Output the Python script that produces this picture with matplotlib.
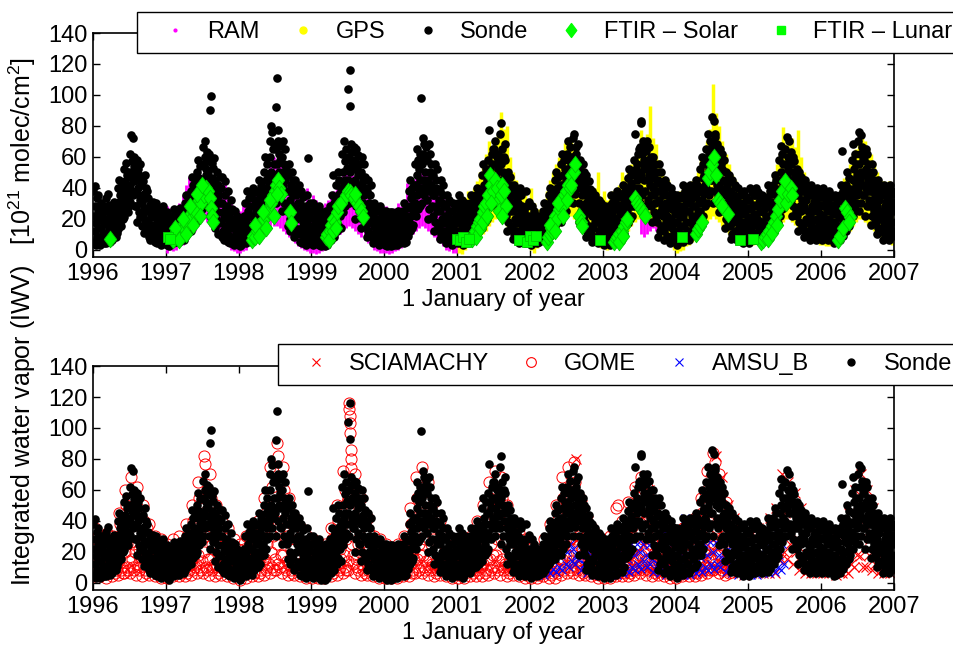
import numpy as np
import matplotlib.pyplot as plt
from matplotlib.lines import Line2D
from matplotlib.path import Path

plt.rcParams['font.family'] = ['Liberation Sans', 'DejaVu Sans']
plt.rcParams['font.size'] = 17
plt.rcParams['mathtext.default'] = 'regular'

years = list(range(1996, 2008))

# radiosonde IWV (1e21 molec/cm2), one list per month
sonde_1996 = [[38, 5, 22, 41, 12, 28, 3, 17, 33, 8, 25, 14, 35, 20], [8, 27, 3, 19, 14, 30, 6, 22, 11, 25, 4, 17, 28, 10],
              [20, 4, 33, 11, 25, 7, 16, 36, 13, 29, 5, 22, 9, 18], [12, 28, 6, 21, 17, 9, 31, 24, 14, 26, 8, 19, 11, 23],
              [22, 40, 13, 31, 45, 18, 35, 27, 15, 38, 24, 42, 20, 33], [30, 52, 21, 44, 36, 56, 26, 48, 33, 40, 24, 50, 38, 28],
              [42, 62, 31, 74, 50, 38, 57, 46, 72, 35, 54, 44, 60, 28, 48], [45, 28, 58, 36, 18, 52, 40, 24, 48, 32, 55, 21, 42, 30],
              [30, 15, 44, 22, 36, 11, 27, 48, 19, 33, 40, 13, 25, 38], [18, 33, 8, 25, 13, 29, 6, 21, 15, 27, 10, 23, 31, 16],
              [10, 24, 5, 16, 30, 12, 4, 20, 8, 26, 14, 7, 22, 18], [7, 18, 3, 25, 12, 5, 28, 15, 9, 21, 4, 14, 24, 11]]
sonde_1997 = [[5, 18, 3, 24, 10, 14, 2, 20, 8, 16, 12, 22, 6, 11], [12, 4, 22, 8, 17, 26, 6, 14, 10, 20, 5, 18, 24, 9],
              [9, 22, 5, 15, 27, 11, 19, 7, 13, 24, 17, 10, 21, 6], [14, 30, 8, 22, 35, 18, 10, 26, 12, 28, 20, 32, 16, 24],
              [20, 38, 12, 30, 47, 24, 16, 42, 27, 35, 22, 44, 18, 33], [28, 50, 20, 42, 58, 34, 24, 46, 38, 54, 30, 44, 26, 36],
              [40, 66, 30, 55, 45, 70, 35, 60, 48, 52, 38, 63, 43, 57], [50, 30, 62, 90, 22, 42, 99, 36, 56, 46, 26, 53, 40, 33, 59],
              [28, 45, 14, 38, 20, 50, 32, 10, 24, 42, 17, 35, 30, 47], [18, 40, 8, 30, 47, 12, 24, 6, 21, 35, 15, 44, 27, 10],
              [12, 28, 5, 20, 38, 9, 16, 4, 24, 14, 32, 7, 19, 26], [6, 20, 3, 14, 25, 9, 4, 17, 11, 22, 7, 15, 12, 19]]
sonde_1998 = [[4, 15, 2, 20, 9, 12, 3, 18, 7, 14, 10, 22, 5, 16], [8, 30, 4, 20, 38, 12, 25, 6, 16, 33, 10, 22, 28, 14],
              [10, 35, 5, 22, 40, 15, 28, 8, 18, 32, 12, 25, 37, 20], [15, 38, 10, 28, 45, 20, 33, 12, 24, 41, 17, 30, 36, 22],
              [25, 50, 18, 40, 60, 30, 45, 22, 35, 55, 28, 48, 38, 42], [40, 70, 30, 60, 80, 50, 35, 76, 45, 65, 55, 42, 68, 48],
              [45, 92, 30, 65, 111, 55, 40, 77, 70, 50, 62, 36, 58, 48, 67], [35, 60, 25, 50, 70, 42, 30, 55, 45, 65, 38, 52, 28, 48],
              [25, 48, 15, 38, 55, 20, 32, 12, 42, 28, 50, 18, 35, 45], [15, 40, 8, 28, 45, 20, 35, 10, 25, 38, 13, 30, 42, 22],
              [10, 30, 5, 22, 38, 14, 4, 26, 18, 34, 8, 24, 12, 20], [8, 28, 3, 18, 35, 12, 59, 5, 22, 15, 30, 10, 25, 6]]
sonde_1999 = [[6, 25, 3, 15, 30, 10, 20, 4, 12, 27, 8, 18, 23, 14], [5, 20, 3, 12, 28, 8, 16, 2, 10, 24, 14, 6, 22, 18],
              [4, 18, 2, 10, 25, 7, 14, 3, 12, 21, 6, 16, 9, 20], [10, 28, 6, 18, 35, 13, 24, 48, 16, 30, 8, 21, 33, 26],
              [20, 42, 12, 30, 50, 16, 36, 25, 45, 22, 33, 14, 39, 28], [35, 62, 24, 50, 70, 42, 28, 57, 45, 65, 32, 53, 38, 60],
              [45, 104, 30, 60, 116, 50, 93, 38, 68, 55, 42, 63, 35, 52, 66], [35, 58, 20, 45, 65, 28, 52, 40, 48, 32, 61, 25, 55, 42],
              [25, 50, 14, 38, 60, 20, 44, 30, 35, 55, 18, 47, 28, 40], [15, 38, 8, 25, 45, 12, 30, 20, 35, 18, 42, 10, 27, 22],
              [8, 22, 4, 15, 30, 10, 18, 5, 25, 12, 20, 7, 27, 14], [6, 20, 3, 12, 28, 9, 15, 4, 22, 17, 8, 25, 11, 18]]
sonde_2000 = [[5, 20, 3, 12, 25, 8, 16, 2, 14, 22, 6, 18, 10, 24], [4, 18, 2, 10, 24, 7, 14, 3, 20, 12, 6, 16, 22, 9],
              [6, 20, 3, 12, 25, 9, 16, 4, 18, 11, 22, 7, 14, 19], [8, 25, 4, 15, 30, 11, 20, 5, 18, 27, 13, 22, 9, 16],
              [18, 38, 12, 28, 45, 22, 33, 14, 40, 25, 35, 16, 30, 42], [30, 55, 22, 42, 65, 35, 48, 26, 58, 38, 52, 28, 45, 62],
              [40, 98, 30, 55, 72, 45, 62, 35, 68, 50, 58, 42, 66, 38], [32, 58, 20, 45, 68, 26, 50, 38, 62, 42, 55, 28, 48, 35],
              [22, 48, 12, 35, 55, 18, 40, 28, 45, 25, 52, 15, 38, 32], [14, 38, 7, 25, 45, 10, 30, 20, 35, 17, 42, 12, 28, 22],
              [8, 28, 4, 18, 35, 12, 22, 6, 25, 15, 32, 10, 20, 14], [6, 25, 3, 14, 30, 10, 20, 4, 17, 27, 8, 22, 12, 18]]
sonde_2001 = [[8, 30, 4, 18, 35, 12, 24, 6, 20, 27, 10, 15, 32, 3], [10, 25, 5, 18, 30, 14, 22, 7, 20, 12, 27, 9, 16, 24],
              [12, 30, 6, 20, 35, 16, 26, 9, 23, 14, 32, 18, 28, 11], [15, 35, 10, 25, 40, 20, 30, 12, 28, 18, 37, 22, 33, 16],
              [22, 48, 14, 35, 55, 28, 42, 18, 38, 25, 52, 32, 45, 20], [32, 58, 22, 45, 77, 38, 52, 28, 48, 62, 35, 55, 42, 65],
              [40, 65, 30, 55, 70, 48, 35, 60, 45, 52, 38, 62, 43, 57], [35, 75, 25, 55, 82, 45, 65, 30, 50, 60, 40, 68, 48, 58],
              [22, 45, 12, 35, 50, 18, 40, 28, 32, 47, 25, 38, 15, 42], [14, 35, 7, 25, 42, 10, 30, 20, 38, 17, 27, 12, 33, 22],
              [8, 30, 4, 20, 40, 12, 25, 6, 35, 16, 28, 10, 22, 18], [7, 25, 4, 15, 38, 10, 20, 5, 28, 13, 22, 9, 31, 17]]
sonde_2002 = [[6, 22, 3, 14, 28, 9, 18, 4, 12, 25, 8, 20, 16, 10], [8, 18, 4, 12, 22, 6, 15, 5, 10, 20, 14, 7, 17, 11],
              [10, 25, 6, 18, 30, 13, 22, 8, 20, 15, 27, 11, 24, 16], [18, 35, 12, 28, 40, 22, 32, 14, 25, 37, 20, 30, 16, 34],
              [22, 45, 15, 35, 50, 28, 40, 18, 32, 47, 25, 38, 20, 42], [28, 55, 18, 42, 62, 35, 48, 22, 38, 58, 32, 52, 25, 45],
              [40, 62, 30, 52, 70, 45, 58, 35, 48, 66, 42, 55, 38, 60], [42, 72, 30, 58, 75, 50, 36, 66, 45, 62, 55, 40, 68, 48],
              [30, 52, 18, 42, 58, 25, 48, 35, 45, 28, 55, 38, 22, 50], [18, 42, 8, 30, 48, 12, 36, 24, 33, 15, 44, 27, 10, 39],
              [10, 32, 5, 22, 38, 14, 28, 6, 25, 18, 35, 8, 30, 20], [8, 28, 4, 18, 32, 12, 22, 6, 25, 15, 30, 10, 20, 14]]
sonde_2003 = [[6, 22, 3, 14, 28, 9, 18, 4, 25, 11, 20, 7, 16, 24], [8, 28, 3, 18, 35, 12, 24, 5, 30, 15, 21, 10, 32, 26],
              [10, 32, 5, 20, 38, 14, 26, 7, 35, 17, 29, 12, 23, 34], [14, 36, 7, 25, 42, 18, 30, 10, 38, 22, 33, 16, 28, 40],
              [25, 46, 17, 35, 52, 30, 40, 20, 48, 28, 43, 22, 37, 50], [35, 58, 28, 48, 75, 40, 52, 30, 55, 45, 62, 38, 50, 65],
              [40, 66, 30, 83, 82, 48, 35, 62, 55, 70, 45, 58, 52, 68], [38, 64, 28, 52, 70, 45, 58, 32, 48, 66, 42, 55, 35, 60],
              [28, 52, 18, 40, 60, 24, 46, 35, 55, 30, 50, 22, 43, 38], [18, 45, 8, 32, 55, 12, 38, 25, 50, 15, 42, 28, 35, 22],
              [12, 38, 6, 25, 45, 18, 30, 9, 42, 22, 35, 15, 28, 20], [8, 32, 4, 20, 40, 14, 26, 6, 36, 17, 29, 11, 23, 34]]
sonde_2004 = [[8, 30, 3, 18, 35, 12, 24, 5, 28, 15, 21, 10, 33, 26], [10, 35, 5, 22, 42, 15, 28, 7, 38, 18, 32, 12, 25, 40],
              [12, 36, 6, 25, 42, 18, 30, 9, 38, 22, 33, 15, 28, 40], [16, 40, 10, 28, 45, 20, 34, 12, 42, 24, 37, 18, 30, 22],
              [25, 52, 18, 40, 60, 32, 46, 22, 55, 36, 48, 28, 42, 57], [40, 65, 30, 55, 75, 48, 35, 62, 52, 70, 45, 58, 38, 68],
              [45, 86, 30, 65, 83, 55, 73, 38, 75, 50, 62, 42, 58, 68, 52], [35, 60, 24, 48, 65, 40, 55, 28, 52, 38, 62, 44, 30, 58],
              [25, 45, 14, 35, 50, 20, 42, 30, 38, 18, 48, 28, 33, 44], [15, 38, 7, 25, 45, 10, 30, 20, 35, 18, 42, 12, 28, 23],
              [10, 32, 6, 20, 40, 14, 26, 8, 35, 18, 29, 12, 23, 37], [8, 30, 4, 18, 38, 12, 24, 6, 34, 15, 27, 10, 21, 32]]
sonde_2005 = [[8, 32, 4, 20, 40, 14, 26, 6, 37, 17, 29, 11, 23, 35], [10, 35, 6, 22, 40, 16, 28, 8, 37, 19, 31, 13, 25, 33],
              [10, 30, 6, 18, 35, 14, 24, 8, 32, 16, 27, 12, 21, 29], [12, 34, 7, 22, 42, 16, 28, 9, 38, 19, 31, 14, 25, 36],
              [20, 42, 12, 30, 48, 25, 36, 15, 45, 22, 39, 17, 33, 28], [32, 58, 22, 45, 67, 38, 50, 26, 62, 42, 55, 30, 48, 35],
              [40, 65, 30, 55, 73, 48, 35, 60, 52, 70, 45, 58, 38, 63], [32, 55, 22, 45, 60, 28, 50, 38, 57, 35, 48, 25, 42, 52],
              [22, 45, 12, 35, 50, 18, 40, 28, 47, 25, 38, 15, 32, 43], [15, 38, 8, 28, 45, 12, 32, 20, 42, 18, 35, 10, 25, 40],
              [12, 35, 6, 22, 42, 16, 28, 9, 38, 19, 31, 14, 25, 33], [10, 32, 6, 20, 40, 14, 26, 8, 36, 17, 29, 12, 23, 34]]
sonde_2006 = [[10, 34, 6, 22, 40, 15, 28, 8, 37, 18, 31, 12, 25, 36], [10, 32, 6, 20, 38, 14, 26, 8, 35, 17, 29, 12, 23, 34],
              [8, 28, 4, 18, 35, 12, 24, 5, 31, 15, 26, 10, 21, 33], [12, 35, 6, 22, 42, 16, 64, 9, 38, 19, 30, 14, 26, 33],
              [20, 42, 12, 30, 50, 25, 36, 15, 46, 22, 39, 18, 33, 28], [32, 58, 22, 45, 68, 38, 52, 26, 62, 42, 55, 30, 48, 35],
              [38, 70, 25, 55, 76, 45, 62, 30, 74, 50, 66, 42, 58, 35, 48], [35, 58, 22, 48, 65, 40, 52, 28, 62, 44, 55, 32, 50, 38],
              [28, 48, 16, 38, 55, 22, 42, 32, 50, 25, 45, 20, 35, 40], [18, 38, 10, 28, 45, 14, 32, 22, 42, 20, 35, 12, 25, 40],
              [12, 35, 6, 22, 42, 16, 28, 9, 38, 19, 31, 14, 25, 33], [10, 34, 6, 22, 42, 15, 28, 8, 38, 18, 31, 12, 25, 36]]

# GPS: half-month low / high envelopes, 2001-2006
gps_high_2001 = [30, 34, 33, 38, 36, 40, 44, 50, 55, 62, 70, 66, 72, 75, 89, 78, 80, 60, 50, 45, 40, 38, 35, 32]
gps_low_2001 = [-2, -3, 0, 2, 3, 5, 6, 8, 10, 12, 15, 18, 20, 22, 20, 18, 15, 12, 10, 8, 5, 4, 3, 2]
gps_high_2002 = [40, 30, 26, 26, 32, 38, 45, 50, 55, 60, 62, 69, 72, 70, 68, 65, 60, 55, 48, 42, 38, 40, 50, 32]
gps_low_2002 = [0, -2, 1, 3, 5, 6, 8, 10, 12, 15, 18, 20, 22, 22, 20, 18, 15, 12, 10, 8, 6, 4, 2, 1]
gps_high_2003 = [38, 32, 35, 38, 40, 42, 50, 46, 50, 55, 60, 65, 77, 70, 75, 93, 72, 68, 58, 50, 44, 45, 42, 38]
gps_low_2003 = [1, 0, 2, 3, 4, 5, 8, 10, 12, 15, 18, 20, 22, 20, 22, 20, 18, 15, 12, 8, 6, 4, 2, 0]
gps_high_2004 = [35, 38, 40, 42, 42, 44, 46, 50, 58, 62, 70, 78, 107, 88, 80, 70, 62, 55, 48, 45, 42, 40, 38, 36]
gps_low_2004 = [-2, -1, 0, 2, 3, 5, 8, 10, 12, 15, 18, 20, 22, 20, 18, 15, 12, 10, 8, 6, 4, 3, 2, 2]
gps_high_2005 = [36, 38, 40, 38, 35, 34, 38, 40, 48, 55, 62, 79, 68, 70, 72, 66, 77, 60, 50, 45, 42, 40, 40, 38]
gps_low_2005 = [2, 3, 4, 5, 5, 4, 5, 7, 10, 12, 15, 18, 20, 20, 18, 16, 14, 12, 10, 8, 6, 5, 4, 3]
gps_high_2006 = [40, 38, 36, 34, 33, 36, 42, 46, 50, 55, 62, 65, 68, 72, 70, 66, 62, 56, 50, 45, 44, 42, 44, 42]
gps_low_2006 = [3, 2, 2, 3, 4, 5, 6, 8, 10, 12, 15, 18, 20, 20, 18, 16, 14, 12, 10, 8, 6, 5, 4, 3]

# RAM microwave radiometer: half-month low / high envelopes
ram_high_1997 = [28, 27, 25, 26, 30, 35, 42, 47, 40, 45, 48, 45, 42, 45, 40, 38, 35, 40, 42, 47, 35, 30, 28, 25]
ram_low_1997 = [-2, 0, -1, 0, 2, 3, 5, 8, 10, 12, 15, 18, 20, 18, 15, 12, 10, 8, 6, 4, 2, 0, -1, -2]
ram_high_1998 = [25, 28, 30, 35, 38, 40, 40, 42, 45, 50, 55, 60, 58, 55, 50, 45, 50, 45, 40, 35, 30, 28, 40, 30]
ram_low_1998 = [-2, -1, 0, 2, 3, 5, 6, 8, 10, 12, 14, 15, 15, 14, 12, 10, 8, 6, 4, 2, 1, 0, -1, -2]
ram_high_1999 = [35, 32, 30, 28, 30, 32, 35, 38, 42, 45, 48, 50, 50, 48, 45, 40, 38, 35, 33, 32, 30, 28, 26, 28]
ram_low_1999 = [-2, -3, -2, -1, 0, 2, 4, 6, 8, 10, 12, 14, 15, 14, 12, 10, 8, 6, 4, 2, 0, -1, -2, -2]
ram_high_2000 = [28, 26, 25, 27, 30, 28, 30, 43, 38, 45, 50, 55, 50, 52, 48, 45, 42, 40, 38, 35, 32, 30, 28, 26]
ram_low_2000 = [-2, -3, -2, -1, 0, 1, 3, 5, 7, 10, 12, 14, 15, 14, 12, 10, 8, 6, 4, 2, 0, -1, -2, -2]
ram_high_2003 = [25, 28, 30, 26, 22, 20]   # from July 2003
ram_low_2003 = [10, 8, 10, 12, 14, 12]

# FTIR
ftir_solar_t = [1996.23,
                1997.08, 1997.10, 1997.12, 1997.15, 1997.17, 1997.20, 1997.22, 1997.25, 1997.27, 1997.30, 1997.32,
                1997.35, 1997.37, 1997.40, 1997.42, 1997.45, 1997.48, 1997.52, 1997.55, 1997.58, 1997.60, 1997.62,
                1997.63, 1997.65, 1997.13, 1997.18, 1997.23, 1997.28, 1997.33, 1997.38, 1997.43, 1997.47, 1997.50,
                1998.18, 1998.20, 1998.22, 1998.25, 1998.27, 1998.30, 1998.32, 1998.35, 1998.37, 1998.40, 1998.42,
                1998.45, 1998.47, 1998.50, 1998.52, 1998.54, 1998.56, 1998.58, 1998.70, 1998.72, 1998.23, 1998.28,
                1998.33, 1998.38, 1998.43, 1998.48, 1998.53,
                1999.20, 1999.22, 1999.25, 1999.27, 1999.30, 1999.32, 1999.35, 1999.37, 1999.40, 1999.47, 1999.50,
                1999.53, 1999.55, 1999.58, 1999.62, 1999.65, 1999.68, 1999.71, 1999.24, 1999.29, 1999.34, 1999.60,
                2001.20, 2001.22, 2001.25, 2001.27, 2001.30, 2001.32, 2001.35, 2001.37, 2001.40, 2001.42, 2001.45,
                2001.47, 2001.50, 2001.52, 2001.55, 2001.57, 2001.58, 2001.60, 2001.62, 2001.65, 2001.67, 2001.62,
                2001.26, 2001.31, 2001.36, 2001.41, 2001.46,
                2002.23, 2002.25, 2002.27, 2002.29, 2002.31, 2002.33, 2002.35, 2002.37, 2002.40, 2002.42, 2002.44,
                2002.47, 2002.50, 2002.52, 2002.55, 2002.57, 2002.60, 2002.62, 2002.68, 2002.70, 2002.72, 2002.28,
                2002.34, 2002.39, 2002.45, 2002.51, 2002.56,
                2003.15, 2003.18, 2003.20, 2003.23, 2003.26, 2003.29, 2003.32, 2003.34, 2003.45, 2003.47, 2003.50,
                2003.53, 2003.56, 2003.58, 2003.22, 2003.28,
                2004.28, 2004.31, 2004.34, 2004.37, 2004.44, 2004.47, 2004.50, 2004.53, 2004.55, 2004.58, 2004.61,
                2004.64, 2004.72,
                2005.17, 2005.20, 2005.23, 2005.26, 2005.29, 2005.32, 2005.35, 2005.38, 2005.41, 2005.44, 2005.46,
                2005.50, 2005.52, 2005.55, 2005.58, 2005.60, 2005.27, 2005.33, 2005.39,
                2006.23, 2006.26, 2006.30, 2006.33, 2006.36, 2006.40, 2006.38]
ftir_solar_v = [7,
                8, 6, 10, 9, 12, 11, 15, 14, 18, 17, 22, 20, 25, 28, 24, 32, 30, 35, 40, 38, 33, 27, 22, 18,
                14, 6, 20, 10, 28, 16, 36, 22, 42,
                6, 9, 8, 12, 15, 14, 18, 20, 22, 26, 25, 30, 35, 38, 42, 45, 40, 36, 24, 17,
                16, 9, 24, 14, 32, 22, 36,
                8, 10, 12, 16, 20, 18, 24, 28, 30, 35, 38, 37, 35, 33, 30, 28, 25, 21, 6, 12, 14, 36,
                7, 9, 12, 15, 18, 20, 24, 28, 30, 35, 48, 42, 38, 45, 40, 32, 25, 35, 42, 38, 28, 22,
                8, 14, 18, 22, 30,
                5, 8, 10, 14, 12, 18, 22, 20, 26, 30, 28, 35, 38, 42, 40, 48, 50, 55, 22, 18, 15, 16,
                12, 30, 22, 32, 42,
                5, 7, 8, 10, 12, 15, 18, 20, 33, 30, 28, 26, 24, 22, 5, 9,
                10, 13, 15, 18, 46, 50, 55, 60, 48, 32, 30, 28, 23,
                5, 6, 8, 10, 12, 15, 18, 22, 26, 32, 38, 44, 30, 36, 40, 35, 7, 11, 16,
                6, 9, 14, 27, 24, 21, 18]
ftir_lunar_t = [1997.03, 1997.06, 2001.00, 2001.04, 2001.08, 2001.12, 2001.16, 2001.85, 2001.96, 2002.00,
                2002.04, 2002.08, 2002.96, 2004.09, 2004.88, 2005.06]
ftir_lunar_v = [8, 7, 7, 6, 8, 5, 7, 6, 5, 9, 6, 9, 6, 8, 6, 7]

# GOME, monthly lists 1996 - Sep 2004
gome_1996 = [[22, 4, 35, 10, 28, 6, 16, 12, 30, 18], [15, 4, 30, 8, 22, 6, 18, 10, 26, 12], [25, 3, 32, 8, 15, 6, 20, 12, 28, 10],
             [18, 4, 30, 10, 25, 6, 14, 8, 22, 12], [28, 5, 45, 15, 38, 8, 22, 10, 32, 6], [35, 6, 60, 20, 50, 10, 25, 8, 44, 14],
             [40, 6, 68, 15, 55, 10, 25, 8, 48, 20], [30, 5, 62, 12, 48, 8, 22, 10, 40, 16], [28, 4, 50, 15, 40, 8, 20, 6, 35, 12],
             [20, 5, 38, 10, 30, 8, 15, 12, 25, 18], [15, 4, 30, 8, 25, 6, 12, 10, 20, 16], [12, 3, 28, 6, 20, 8, 10, 14, 16, 22]]
gome_1997 = [[12, 3, 25, 6, 18, 8, 10, 14, 15, 20], [15, 4, 28, 8, 20, 6, 12, 10, 24, 16], [18, 4, 30, 10, 25, 6, 14, 8, 22, 12],
             [20, 4, 38, 10, 30, 6, 16, 8, 25, 12], [30, 5, 50, 15, 40, 8, 22, 10, 35, 12], [40, 6, 65, 18, 55, 10, 28, 8, 48, 14],
             [45, 6, 82, 20, 77, 10, 30, 8, 60, 15], [35, 5, 70, 15, 55, 8, 25, 10, 45, 12], [28, 4, 50, 12, 40, 6, 20, 8, 35, 10],
             [20, 5, 40, 10, 30, 8, 15, 12, 25, 18], [15, 4, 35, 8, 25, 6, 12, 10, 20, 16], [12, 3, 28, 6, 20, 8, 10, 14, 16, 22]]
gome_1998 = [[10, 2, 25, 5, 18, 8, 14, 12, 22, 16], [15, 3, 30, 8, 22, 6, 12, 10, 26, 18], [25, 4, 32, 10, 28, 6, 18, 12, 22, 14],
             [25, 4, 40, 12, 32, 6, 18, 8, 28, 15], [35, 5, 55, 15, 45, 8, 25, 10, 40, 12], [45, 6, 75, 20, 62, 10, 30, 8, 52, 15],
             [50, 8, 90, 25, 82, 12, 35, 10, 65, 18], [40, 6, 75, 18, 60, 10, 28, 8, 50, 14], [30, 5, 55, 12, 45, 8, 22, 6, 38, 10],
             [22, 5, 42, 10, 32, 8, 16, 12, 28, 18], [15, 4, 35, 8, 25, 6, 12, 10, 20, 16], [12, 3, 30, 6, 20, 8, 10, 14, 16, 22]]
gome_1999 = [[10, 3, 28, 5, 18, 8, 14, 12, 22, 16], [12, 3, 25, 6, 18, 8, 10, 14, 20, 16], [10, 3, 25, 6, 18, 8, 12, 14, 20, 16],
             [18, 4, 35, 8, 28, 6, 14, 10, 22, 12], [30, 5, 50, 12, 40, 8, 22, 10, 35, 15], [45, 6, 72, 18, 60, 10, 28, 8, 52, 14],
             [55, 8, 116, 112, 108, 103, 97, 86, 80, 74, 25, 40, 12, 30, 18, 62],
             [40, 6, 70, 15, 58, 10, 25, 8, 48, 20], [30, 5, 55, 12, 45, 8, 22, 6, 38, 15], [20, 5, 42, 8, 32, 10, 15, 12, 26, 18],
             [15, 4, 30, 6, 22, 8, 12, 10, 18, 14], [10, 3, 28, 5, 18, 8, 12, 14, 22, 16]]
gome_2000 = [[10, 3, 25, 5, 18, 8, 14, 12, 20, 16], [10, 3, 22, 5, 16, 8, 12, 14, 19, 7], [12, 3, 25, 6, 18, 8, 10, 14, 21, 16],
             [15, 4, 30, 8, 22, 6, 12, 10, 26, 18], [28, 4, 48, 12, 38, 6, 20, 8, 32, 15], [40, 6, 68, 15, 55, 10, 25, 8, 48, 18],
             [45, 6, 75, 18, 62, 10, 28, 8, 55, 14], [38, 5, 65, 15, 52, 8, 25, 10, 45, 12], [28, 4, 52, 12, 40, 6, 20, 8, 35, 10],
             [20, 5, 40, 8, 30, 10, 15, 12, 25, 18], [15, 4, 32, 6, 24, 8, 12, 10, 20, 16], [10, 3, 28, 5, 18, 8, 12, 14, 22, 16]]
gome_2001 = [[10, 3, 25, 5, 18, 8, 14, 12, 20, 16], [12, 3, 28, 6, 20, 8, 10, 14, 24, 16], [15, 4, 30, 8, 22, 6, 12, 10, 26, 18],
             [18, 4, 40, 8, 28, 6, 14, 10, 24, 12], [30, 4, 50, 12, 40, 6, 20, 8, 35, 15], [40, 5, 65, 15, 55, 8, 25, 10, 48, 18],
             [45, 6, 72, 18, 60, 10, 28, 8, 52, 14], [40, 5, 68, 15, 55, 8, 25, 10, 48, 12], [28, 4, 50, 12, 40, 6, 20, 8, 35, 10],
             [20, 5, 40, 8, 30, 10, 15, 12, 25, 18], [15, 4, 32, 6, 24, 8, 12, 10, 20, 16], [12, 3, 28, 5, 20, 8, 10, 14, 16, 22]]
gome_2002 = [[10, 3, 25, 5, 18, 8, 14, 12, 20, 16], [10, 3, 22, 5, 16, 8, 12, 14, 19, 7], [15, 4, 28, 6, 20, 8, 10, 12, 24, 18],
             [18, 3, 38, 8, 28, 5, 14, 6, 24, 10], [30, 3, 50, 10, 40, 6, 20, 8, 35, 15], [40, 5, 68, 15, 55, 8, 25, 10, 48, 18],
             [45, 6, 75, 18, 62, 10, 28, 8, 55, 14], [45, 6, 78, 18, 65, 10, 28, 8, 55, 14], [30, 5, 55, 12, 45, 8, 22, 6, 38, 15],
             [20, 5, 42, 8, 32, 10, 15, 12, 26, 18], [15, 4, 35, 6, 25, 8, 12, 10, 20, 16], [12, 3, 30, 5, 20, 8, 10, 14, 16, 22]]
gome_2003 = [[10, 3, 25, 5, 18, 8, 14, 12, 20, 16], [12, 3, 30, 6, 22, 8, 10, 14, 26, 16], [15, 4, 48, 8, 50, 6, 12, 10, 25, 18],
             [20, 4, 40, 8, 30, 6, 14, 10, 25, 12], [30, 4, 52, 12, 42, 6, 20, 8, 36, 15], [40, 5, 62, 15, 52, 8, 25, 10, 45, 18],
             [45, 6, 68, 18, 58, 10, 28, 8, 50, 14], [40, 5, 62, 15, 50, 8, 25, 10, 45, 12], [28, 4, 50, 12, 40, 6, 20, 8, 35, 10],
             [20, 5, 42, 8, 30, 10, 15, 12, 25, 18], [15, 4, 35, 6, 25, 8, 12, 10, 20, 16], [12, 3, 30, 5, 20, 8, 10, 14, 16, 22]]
gome_2004 = [[12, 3, 30, 6, 22, 8, 10, 14, 18, 16], [15, 4, 35, 8, 25, 6, 12, 10, 20, 18], [18, 4, 38, 10, 28, 6, 14, 8, 24, 12],
             [22, 4, 42, 10, 32, 6, 16, 8, 28, 12], [32, 5, 55, 15, 45, 8, 22, 10, 38, 18], [45, 6, 72, 20, 62, 10, 30, 8, 55, 15],
             [55, 8, 84, 25, 78, 12, 35, 10, 65, 18], [40, 6, 70, 18, 58, 10, 28, 8, 50, 14], [30, 5, 52, 12, 42, 8, 20, 6, 35, 10]]

# SCIAMACHY, monthly lists from July 2002
scia_2002 = [[40, 10, 65, 25], [45, 12, 80, 28], [30, 8, 50, 18], [20, 6, 40, 12], [15, 6, 32, 8], [12, 5, 28, 8]]
scia_2003 = [[10, 5, 25, 7], [12, 5, 30, 8], [15, 6, 35, 8], [20, 6, 40, 10], [30, 6, 50, 15], [40, 8, 60, 20],
             [45, 8, 65, 25], [40, 8, 60, 20], [28, 6, 50, 12], [20, 6, 42, 8], [15, 6, 35, 8], [12, 5, 30, 7]]
scia_2004 = [[12, 5, 30, 7], [15, 6, 35, 8], [18, 6, 38, 10], [22, 6, 42, 10], [32, 6, 55, 15], [45, 8, 72, 20],
             [55, 8, 82, 25], [40, 8, 68, 18], [30, 6, 50, 12], [20, 6, 42, 8], [15, 6, 35, 8], [12, 5, 32, 7]]
scia_2005 = [[12, 6, 32, 8], [15, 6, 35, 8], [15, 6, 32, 8], [20, 6, 42, 10], [30, 6, 48, 15], [40, 15, 70, 20],
             [45, 15, 65, 25], [38, 12, 58, 20], [28, 8, 48, 12], [20, 6, 40, 8], [15, 6, 35, 8], [12, 6, 32, 7]]
scia_2006 = [[12, 6, 32, 8], [12, 6, 30, 8], [12, 5, 30, 7], [18, 6, 38, 8], [28, 6, 45, 12], [38, 10, 60, 18],
             [42, 17, 70, 10], [38, 10, 60, 18], [28, 8, 48, 12], [20, 6, 40, 8], [15, 6, 35, 8], [12, 6, 32, 7]]

# AMSU-B, monthly lists Jan 2002 - Jun 2005
amsu_2002 = [[15, 5, 22, 8], [12, 5, 18, 7], [12, 5, 20, 8], [14, 6, 22, 9], [16, 7, 25, 10], [18, 8, 26, 12],
             [20, 10, 25, 14], [22, 12, 18, 15], [18, 8, 24, 12], [12, 6, 20, 8], [10, 5, 18, 7], [8, 5, 16, 6]]
amsu_2003 = [[8, 5, 16, 6], [10, 5, 18, 7], [10, 5, 20, 7], [12, 6, 22, 8], [15, 7, 25, 10], [18, 8, 25, 12],
             [20, 9, 25, 14], [18, 10, 24, 12], [15, 7, 22, 10], [12, 6, 28, 8], [32, 5, 26, 7], [10, 5, 18, 6]]
amsu_2004 = [[8, 5, 20, 6], [12, 5, 42, 7], [41, 5, 22, 8], [14, 6, 24, 9], [16, 7, 25, 10], [18, 8, 26, 12],
             [20, 9, 26, 12], [18, 10, 24, 14], [15, 7, 22, 10], [12, 6, 20, 8], [10, 5, 18, 7], [8, 5, 16, 6]]
amsu_2005 = [[10, 5, 18, 7], [12, 5, 21, 8], [14, 6, 22, 9], [15, 6, 23, 10], [16, 7, 34, 10], [18, 8, 25, 12]]


def spread(blocks):
    # (year, first month, monthly lists) -> points spread over each month
    xs, ys = [], []
    for year, start, months in blocks:
        for m, vals in enumerate(months):
            for k, v in enumerate(vals):
                xs.append(year + (start + m + (k + 0.5) / len(vals)) / 12.0)
                ys.append(v)
    return np.array(xs), np.array(ys)


def half_months(blocks):
    xs, lo, hi = [], [], []
    for year, start, low, high in blocks:
        for i in range(len(low)):
            xs.append(year + (start + i + 0.5) / 24.0)
            lo.append(low[i])
            hi.append(high[i])
    return np.array(xs), np.array(lo), np.array(hi)


sonde_x, sonde_y = spread([(1996, 0, sonde_1996), (1997, 0, sonde_1997), (1998, 0, sonde_1998),
                           (1999, 0, sonde_1999), (2000, 0, sonde_2000), (2001, 0, sonde_2001),
                           (2002, 0, sonde_2002), (2003, 0, sonde_2003), (2004, 0, sonde_2004),
                           (2005, 0, sonde_2005), (2006, 0, sonde_2006)])
gps_x, gps_lo, gps_hi = half_months([(2001, 0, gps_low_2001, gps_high_2001), (2002, 0, gps_low_2002, gps_high_2002),
                                     (2003, 0, gps_low_2003, gps_high_2003), (2004, 0, gps_low_2004, gps_high_2004),
                                     (2005, 0, gps_low_2005, gps_high_2005), (2006, 0, gps_low_2006, gps_high_2006)])
ram_x, ram_lo, ram_hi = half_months([(1997, 0, ram_low_1997, ram_high_1997), (1998, 0, ram_low_1998, ram_high_1998),
                                     (1999, 0, ram_low_1999, ram_high_1999), (2000, 0, ram_low_2000, ram_high_2000),
                                     (2003, 12, ram_low_2003, ram_high_2003)])
gome_x, gome_y = spread([(1996, 0, gome_1996), (1997, 0, gome_1997), (1998, 0, gome_1998), (1999, 0, gome_1999),
                         (2000, 0, gome_2000), (2001, 0, gome_2001), (2002, 0, gome_2002), (2003, 0, gome_2003),
                         (2004, 0, gome_2004)])
scia_x, scia_y = spread([(2002, 6, scia_2002), (2003, 0, scia_2003), (2004, 0, scia_2004), (2005, 0, scia_2005),
                         (2006, 0, scia_2006)])
amsu_x, amsu_y = spread([(2002, 0, amsu_2002), (2003, 0, amsu_2003), (2004, 0, amsu_2004), (2005, 0, amsu_2005)])

diamond = Path([(0, 1), (0.75, 0), (0, -1), (-0.75, 0), (0, 1)],
               [Path.MOVETO, Path.LINETO, Path.LINETO, Path.LINETO, Path.CLOSEPOLY])
GREEN = (0, 1, 0)

fig = plt.figure(figsize=(9.54, 6.48), dpi=100)
ax1 = fig.add_axes([0.0975, 0.603, 0.8395, 0.346])
ax2 = fig.add_axes([0.0975, 0.089, 0.8395, 0.346])


def style(ax):
    ax.set_xlim(1996, 2007)
    ax.set_ylim(-5, 140)
    ax.set_xticks(years)
    ax.set_xticklabels([str(y) for y in years])
    ax.set_yticks(range(0, 141, 20))
    ax.tick_params(direction='in', length=5, width=1, top=True, right=True, pad=4)
    for s in ax.spines.values():
        s.set_linewidth(1.2)
    ax.set_xlabel('1 January of year', labelpad=3)


legend_kw = dict(fancybox=False, framealpha=1, edgecolor='k', borderpad=0.4, handlelength=2.4,
                 handletextpad=0.19, columnspacing=0.6, borderaxespad=0, loc='upper left')

# top panel
ax1.vlines(ram_x, ram_lo, ram_hi, color='magenta', lw=2)
ax1.vlines(gps_x, gps_lo, gps_hi, color='yellow', lw=2.5)
ax1.plot(sonde_x, sonde_y, 'o', color='k', ms=6.2, mew=0)
ax1.plot(ftir_solar_t, ftir_solar_v, ls='none', marker=diamond, color=GREEN, ms=12, mec='#00c800', mew=0.6)
ax1.plot(ftir_lunar_t, ftir_lunar_v, 's', color=GREEN, ms=7.5, mec='#00c800', mew=0.6)
style(ax1)

h1 = [Line2D([], [], ls='none', marker='.', color='magenta', ms=4),
      Line2D([], [], ls='none', marker='o', color='yellow', ms=5),
      Line2D([], [], ls='none', marker='o', color='k', ms=5),
      Line2D([], [], ls='none', marker=diamond, color=GREEN, ms=10),
      Line2D([], [], ls='none', marker='s', color=GREEN, ms=6)]
leg1 = ax1.legend(h1, ['RAM', 'GPS', 'Sonde', 'FTIR \u2013 Solar', 'FTIR \u2013 Lunar'], ncol=5,
                  bbox_to_anchor=(137 / 954, 1 - 12 / 648), bbox_transform=fig.transFigure, **legend_kw)
leg1.get_frame().set_linewidth(1.0)

# bottom panel
ax2.plot(scia_x, scia_y, 'x', color='red', ms=6.5, mew=0.8)
ax2.plot(gome_x, gome_y, 'o', mfc='none', mec='red', ms=8, mew=0.7)
ax2.plot(amsu_x, amsu_y, 'x', color='blue', ms=6, mew=0.8)
ax2.plot(sonde_x, sonde_y, 'o', color='k', ms=6.2, mew=0)
style(ax2)

h2 = [Line2D([], [], ls='none', marker='x', color='red', ms=6, mew=0.8),
      Line2D([], [], ls='none', marker='o', mfc='none', mec='red', ms=7, mew=0.8),
      Line2D([], [], ls='none', marker='x', color='blue', ms=6, mew=0.8),
      Line2D([], [], ls='none', marker='o', color='k', ms=5)]
leg2 = ax2.legend(h2, ['SCIAMACHY', 'GOME', 'AMSU_B', 'Sonde'], ncol=4,
                  bbox_to_anchor=(278 / 954, 1 - 344 / 648), bbox_transform=fig.transFigure, **legend_kw)
leg2.get_frame().set_linewidth(1.0)

fig.text(0.023, 0.503, 'Integrated water vapor (IWV)   [10$^{21}$ molec/cm$^{2}$]',
         rotation=90, ha='center', va='center', fontsize=18)

fig.savefig('out.png', dpi=100)
